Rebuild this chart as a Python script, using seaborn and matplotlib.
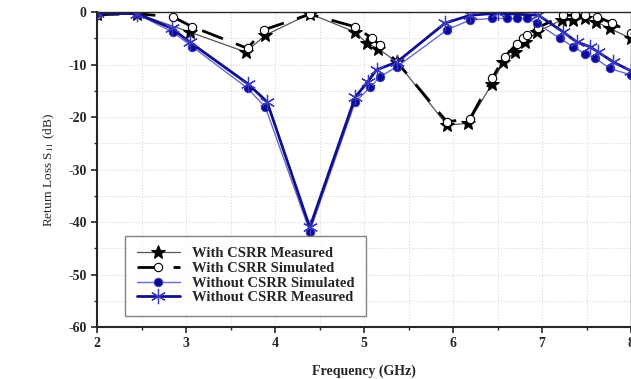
import numpy as np
import pandas as pd
import matplotlib
matplotlib.use("Agg")
import matplotlib.pyplot as plt
import seaborn as sns

# With CSRR - measured (stars)
freq_csrr_meas = [2.0, 2.45, 3.04, 3.67, 3.89, 4.39, 4.9, 5.03, 5.16, 5.37, 5.93, 6.17,
                  6.44, 6.56, 6.70, 6.81, 6.94, 7.22, 7.35, 7.48, 7.61, 7.76, 8.0]
s11_csrr_meas = [-0.3, -0.3, -3.8, -7.6, -4.4, -0.3, -3.8, -5.9, -7.0, -9.5, -21.5, -21.2,
                 -13.6, -9.5, -7.6, -5.7, -3.8, -1.5, -1.5, -1.2, -1.9, -3.1, -5.0]

# With CSRR - simulated (open circles)
freq_csrr_sim = [2.0, 2.45, 2.85, 3.07, 3.69, 3.87, 4.39, 4.9, 5.09, 5.18, 5.37, 5.93, 6.19,
                 6.44, 6.58, 6.72, 6.79, 6.83, 6.95, 7.24, 7.37, 7.48, 7.62, 7.79, 8.0]
s11_csrr_sim = [-0.5, -0.3, -0.9, -2.8, -6.9, -3.4, -0.4, -2.8, -5.0, -6.3, -9.5, -20.9, -20.3,
                -12.6, -8.5, -6.0, -5.0, -4.4, -3.0, -0.6, -0.6, -0.6, -0.9, -2.1, -4.0]

# Without CSRR - simulated (blue dots)
freq_nocsrr_sim = [2.0, 2.45, 2.85, 3.07, 3.69, 3.89, 4.39, 4.9, 5.07, 5.18, 5.37, 5.93, 6.19,
                   6.44, 6.61, 6.72, 6.83, 6.94, 7.2, 7.35, 7.48, 7.6, 7.76, 8.0]
s11_nocsrr_sim = [-0.2, -0.4, -3.8, -6.6, -14.5, -18.1, -41.8, -17.1, -14.3, -12.3, -10.4, -3.4,
                  -1.5, -1.2, -1.2, -1.2, -1.2, -2.1, -5.0, -6.6, -7.9, -8.8, -10.7, -12.0]

# Without CSRR - measured (asterisks)
freq_nocsrr_meas = [2.0, 2.45, 2.84, 3.04, 3.69, 3.91, 4.39, 4.9, 5.04, 5.14, 5.37, 5.91, 6.19,
                    6.5, 6.96, 7.24, 7.39, 7.54, 7.63, 7.8, 8.0]
s11_nocsrr_meas = [-0.2, -0.3, -3.1, -5.7, -13.6, -17.1, -41.0, -16.2, -13.3, -11.0, -9.5, -2.1,
                   -0.6, -0.2, -0.6, -3.8, -5.7, -6.6, -7.6, -9.5, -11.2]

sns.set_style("ticks")
plt.rcParams["font.family"] = ["Liberation Serif", "DejaVu Serif"]
plt.rcParams["mathtext.fontset"] = "stix"
plt.rcParams["axes.unicode_minus"] = False

fig = plt.figure(figsize=(6.31, 3.79), dpi=100)
ax = fig.add_axes([0.154, 0.137, 0.846, 0.831])

sns.lineplot(x=freq_csrr_meas, y=s11_csrr_meas, ax=ax, sort=False, color="#555555",
             linewidth=0.9, marker="*", markersize=10, markerfacecolor="black",
             markeredgecolor="black", label="With CSRR Measured")
sns.lineplot(x=freq_csrr_sim, y=s11_csrr_sim, ax=ax, sort=False, color="black",
             linewidth=2.0, marker="o", markersize=6, markerfacecolor="white",
             markeredgecolor="black", markeredgewidth=0.8, label="With CSRR Simulated")
ax.lines[-1].set_dashes([8, 5])
sns.lineplot(x=freq_nocsrr_sim, y=s11_nocsrr_sim, ax=ax, sort=False, color="#6a6ad0",
             linewidth=1.0, marker="o", markersize=6, markerfacecolor="#0a0a9a",
             markeredgecolor="#3a3ab8", label="Without CSRR Simulated")
sns.lineplot(x=freq_nocsrr_meas, y=s11_nocsrr_meas, ax=ax, sort=False, color="#10108f",
             linewidth=2.0, marker=(6, 2, 0), markersize=11, markeredgecolor="#3a3ac0",
             markeredgewidth=0.9, label="Without CSRR Measured")

ax.set_xlim(2, 8)
ax.set_ylim(-60, 0)
ax.set_xticks(np.arange(2, 9, 1))
ax.set_xticks(np.arange(2.5, 8, 1), minor=True)
ax.set_yticks(np.arange(-60, 1, 10))
ax.set_yticks(np.arange(-55, 0, 10), minor=True)
ax.grid(True, which="both", color="#d8d8d8", linestyle=":", linewidth=0.8)
ax.tick_params(axis="both", which="major", direction="out", length=4, width=1.2,
               labelsize=10)
ax.tick_params(axis="both", which="minor", direction="out", length=2.5, width=1)
for lab in ax.get_xticklabels() + ax.get_yticklabels():
    lab.set_fontweight("bold")
for side in ["left", "bottom"]:
    ax.spines[side].set_linewidth(1.5)
for side in ["top", "right"]:
    ax.spines[side].set_visible(True)
    ax.spines[side].set_linewidth(1.0)

ax.set_xlabel("Frequency (GHz)", fontsize=10, fontweight="bold", labelpad=10)
ax.set_ylabel("Return Loss S$_{11}$ (dB)", fontsize=9.5, labelpad=8)

leg = ax.legend(loc="lower left", bbox_to_anchor=(0.052, 0.035), frameon=True,
                fancybox=False, edgecolor="#666666", borderpad=0.8, handlelength=3.0,
                labelspacing=0.1, prop={"weight": "bold", "size": 10.5},
                borderaxespad=0)
leg.get_frame().set_linewidth(1.0)

fig.savefig("out.png", dpi=100)
